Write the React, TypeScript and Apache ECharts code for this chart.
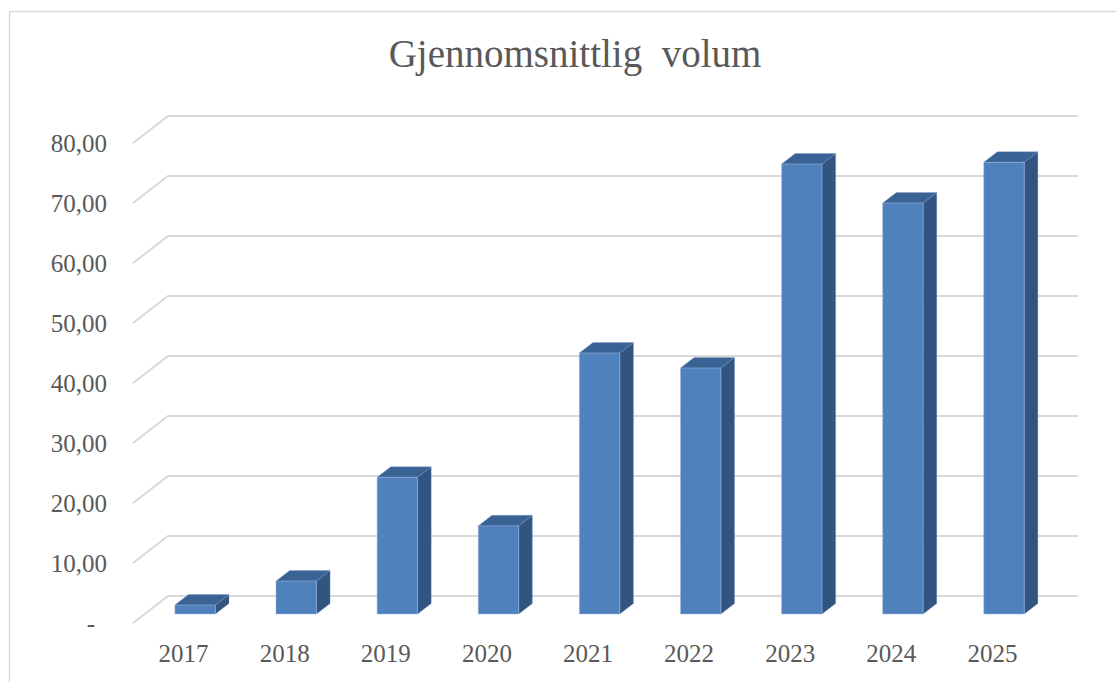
import React, { useEffect, useRef } from "react";
import * as echarts from "echarts";

const categories = ["2017", "2018", "2019", "2020", "2021", "2022", "2023", "2024", "2025"];
const values = [1.5, 5.5, 22.8, 14.7, 43.5, 41.0, 75.0, 68.5, 75.3];
const yTicks = [0, 10, 20, 30, 40, 50, 60, 70, 80];
const titleText = "Gjennomsnittlig  volum";

const DX = 35;
const DY = -27;
const FRONT = 0.33;
const DEPTH = 0.39;

export default function App() {
  const ref = useRef<HTMLDivElement>(null);
  useEffect(() => {
    const chart = echarts.init(ref.current!, null, { renderer: "svg" });
    const font = "'Liberation Serif', serif";
    chart.setOption({
      animation: false,
      backgroundColor: "#ffffff",
      title: {
        text: titleText,
        left: 570,
        top: 29,
        textAlign: "center",
        textStyle: { fontFamily: font, fontSize: 39, fontWeight: "normal", color: "#595959" },
      },
      graphic: [
        {
          type: "rect",
          shape: { x: 9.5, y: 11.5, width: 1300, height: 900 },
          style: { fill: "none", stroke: "#D9D9D9", lineWidth: 1.5 },
          silent: true,
          z: -10,
        },
      ],
      grid: { left: 133, right: 73, top: 143, bottom: 59, containLabel: false },
      xAxis: {
        type: "category",
        data: categories,
        axisLine: { show: false },
        axisTick: { show: false },
        splitLine: { show: false },
        axisLabel: { fontFamily: font, fontSize: 25, color: "#595959", margin: 18 },
      },
      yAxis: {
        type: "value",
        min: 0,
        max: 80,
        interval: 10,
        axisLine: { show: false },
        axisTick: { show: false },
        splitLine: { show: false },
        axisLabel: {
          fontFamily: font,
          fontSize: 25,
          color: "#595959",
          margin: 26,
          formatter: (v: number) => (v === 0 ? "{d|-}" : v.toFixed(2).replace(".", ",")),
          rich: { d: { fontFamily: font, fontSize: 25, color: "#595959", padding: [0, 12, 0, 0] } },
        },
      },
      series: [
        {
          type: "custom",
          silent: true,
          data: yTicks.map((t) => [0, t]),
          renderItem: (params: any, api: any) => {
            const cs = params.coordSys;
            const p = api.coord([0, api.value(1)]);
            const y = p[1];
            const x0 = cs.x;
            const x1 = cs.x + cs.width;
            return {
              type: "polyline",
              shape: {
                points: [
                  [x0, y],
                  [x0 + DX, y + DY],
                  [x1 + DX, y + DY],
                ],
              },
              style: { stroke: "#D9D9D9", lineWidth: 2, fill: "none" },
            };
          },
          z: 1,
        },
        {
          type: "custom",
          data: values.map((v, i) => [i, v]),
          renderItem: (params: any, api: any) => {
            const i = api.value(0);
            const base = api.coord([i, 0]);
            const top = api.coord([i, api.value(1)]);
            const band = api.size([1, 0])[0];
            const w = band * 0.4;
            const cx = base[0] + FRONT * DX;
            const y0 = base[1] + FRONT * DY;
            const y1 = top[1] + FRONT * DY;
            const xl = cx - w / 2;
            const xr = cx + w / 2;
            const ox = DEPTH * DX;
            const oy = DEPTH * DY;
            return {
              type: "group",
              children: [
                {
                  type: "polygon",
                  shape: { points: [[xr, y1], [xr + ox, y1 + oy], [xr + ox, y0 + oy], [xr, y0]] },
                  style: { fill: "#325480", stroke: "rgba(120,150,200,0.35)", lineWidth: 1 },
                },
                {
                  type: "polygon",
                  shape: { points: [[xl, y1], [xr, y1], [xr + ox, y1 + oy], [xl + ox, y1 + oy]] },
                  style: { fill: "#3A6395", stroke: "rgba(120,150,200,0.35)", lineWidth: 1 },
                },
                {
                  type: "rect",
                  shape: { x: xl, y: y1, width: w, height: y0 - y1 },
                  style: { fill: "#4F81BD", stroke: "rgba(160,190,230,0.5)", lineWidth: 1 },
                },
              ],
            };
          },
          z: 2,
        },
      ],
    });
    return () => chart.dispose();
  }, []);
  return (
    <div
      ref={ref}
      style={{ position: "fixed", left: 0, top: 0, width: 1116, height: 682 }}
    />
  );
}
